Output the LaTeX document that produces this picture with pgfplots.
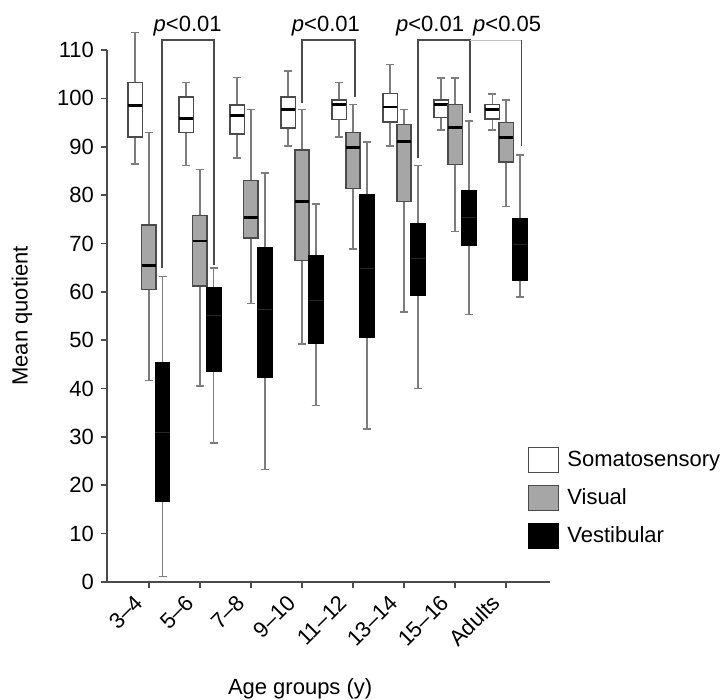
\documentclass[border=0pt]{standalone}
\usepackage{fontspec}
\setmainfont{Liberation Sans}
\usepackage{pgfplots}
\pgfplotsset{compat=1.18}
\usepgfplotslibrary{statistics}

\definecolor{boxgray}{RGB}{166,166,166}
\definecolor{whisk}{RGB}{125,125,125}
\definecolor{edge}{RGB}{75,75,75}

% position, lower whisker, lower quartile, median, upper quartile, upper whisker, style
\newcommand{\bx}[7]{%
  \addplot[#7, forget plot, boxplot/draw direction=y,
    boxplot prepared={draw position=#1,
    lower whisker=#2, lower quartile=#3, median=#4,
    upper quartile=#5, upper whisker=#6,
    box extend=0.28, whisker extend=0.16}] coordinates {};}

\begin{document}
\begin{tikzpicture}[font=\fontsize{11}{13}\selectfont,
  bracket/.style={edge, line width=0.9pt}]
\begin{axis}[
    scale only axis, width=221.5pt, height=266pt,
    xmin=-0.82, xmax=7.86, ymin=0, ymax=110,
    axis lines=left, axis line style={-, edge, line width=0.8pt},
    clip=false,
    xtick={0,...,7},
    xticklabels={3--4,5--6,7--8,9--10,11--12,13--14,15--16,Adults},
    xticklabel style={xshift=-3.5pt, yshift=-4pt, rotate=45, anchor=east, inner sep=2pt},
    ytick={0,10,...,110},
    tick align=outside, major tick length=3pt,
    tick style={edge, line width=0.8pt},
    /pgf/number format/assume math mode=true,
    xlabel={Age groups (y)}, ylabel={Mean quotient},
    xlabel style={at={(axis description cs:0.436,-0.2)}, anchor=center},
    ylabel style={at={(axis description cs:-0.192,0.5)}, anchor=center},
    wb/.style={draw=edge, fill=white, line width=0.7pt,
      boxplot/every median/.style={black, line width=1.4pt},
      boxplot/every whisker/.style={whisk, line width=0.8pt}},
    gb/.style={draw=edge, fill=boxgray, line width=0.7pt,
      boxplot/every median/.style={black, line width=1.4pt},
      boxplot/every whisker/.style={whisk, line width=0.8pt}},
    kb/.style={draw=black, fill=black, line width=0.7pt,
      boxplot/every median/.style={black!85!white, line width=0.5pt},
      boxplot/every whisker/.style={whisk, line width=0.8pt}},
    legend style={at={(axis cs:7.42,28)}, anchor=north west,
      draw=none, fill=none, row sep=5.5pt, inner sep=0pt},
    legend cell align=left,
    legend image code/.code={\draw[#1] (0pt,-6.25pt) rectangle (15pt,6.25pt);},
]
\coordinate (o) at (axis cs:-0.82,0);

\addlegendimage{draw=edge, fill=white, line width=0.7pt}
\addlegendentry{\hspace{2pt}Somatosensory}
\addlegendimage{draw=edge, fill=boxgray, line width=0.7pt}
\addlegendentry{\hspace{2pt}Visual}
\addlegendimage{draw=black, fill=black, line width=0.7pt}
\addlegendentry{\hspace{2pt}Vestibular}

% 3-4
\bx{-0.27}{86.4}{92.0}{98.6}{103.3}{113.6}{wb}
\bx{0}{41.7}{60.5}{65.5}{73.8}{92.9}{gb}
\bx{0.27}{1.1}{16.6}{31.0}{45.3}{63.2}{kb}
% 5-6
\bx{0.73}{86.1}{93.0}{95.9}{100.3}{103.3}{wb}
\bx{1}{40.5}{61.2}{70.5}{75.8}{85.3}{gb}
\bx{1.27}{28.7}{43.6}{55.0}{60.9}{64.9}{kb}
% 7-8
\bx{1.73}{87.7}{92.6}{96.5}{98.6}{104.3}{wb}
\bx{2}{57.6}{71.1}{75.4}{83.0}{97.7}{gb}
\bx{2.27}{23.3}{42.4}{56.4}{69.2}{84.6}{kb}
% 9-10
\bx{2.73}{90.2}{93.9}{97.7}{100.3}{105.6}{wb}
\bx{3}{49.2}{66.5}{78.7}{89.3}{97.7}{gb}
\bx{3.27}{36.5}{49.4}{58.2}{67.4}{78.1}{kb}
% 11-12
\bx{3.73}{92.0}{95.6}{98.8}{99.7}{103.3}{wb}
\bx{4}{68.9}{81.3}{89.9}{92.9}{98.7}{gb}
\bx{4.27}{31.6}{50.6}{64.9}{80.1}{91.0}{kb}
% 13-14
\bx{4.73}{90.1}{95.1}{98.2}{101.0}{107.0}{wb}
\bx{5}{55.8}{78.7}{91.0}{94.6}{97.7}{gb}
\bx{5.27}{40.0}{59.2}{66.9}{74.1}{86.1}{kb}
% 15-16
\bx{5.73}{93.4}{96.0}{98.7}{99.7}{104.2}{wb}
\bx{6}{72.5}{86.3}{93.9}{98.7}{104.2}{gb}
\bx{6.27}{55.3}{69.6}{75.4}{81.0}{95.3}{kb}
% Adults
\bx{6.73}{93.4}{95.7}{97.7}{98.7}{100.9}{wb}
\bx{7}{77.6}{86.8}{91.9}{95.0}{99.7}{gb}
\bx{7.27}{58.9}{62.4}{69.8}{75.1}{88.3}{kb}

% significance brackets
\draw[bracket] (axis cs:0.25,65) -- (axis cs:0.25,112) -- (axis cs:1.27,112) -- (axis cs:1.27,65.5);
\draw[bracket] (axis cs:3,99) -- (axis cs:3,112) -- (axis cs:4.04,112) -- (axis cs:4.04,100.2);
\draw[bracket] (axis cs:5.27,87.6) -- (axis cs:5.27,112) -- (axis cs:6.29,112) -- (axis cs:6.29,96.9);
\draw[black!25, line width=0.5pt] (axis cs:6.29,112) -- (axis cs:7.3,112);
\draw[bracket] (axis cs:7.3,112) -- (axis cs:7.3,90.1);
\node[anchor=base] at (axis cs:0.76,113.8) {\textit{p}<0.01};
\node[anchor=base] at (axis cs:3.47,113.8) {\textit{p}<0.01};
\node[anchor=base] at (axis cs:5.51,113.8) {\textit{p}<0.01};
\node[anchor=base] at (axis cs:7.02,113.8) {\textit{p}<0.05};
\end{axis}
\pgfresetboundingbox
\path ([shift={(-53.5pt,-59pt)}]o) rectangle ([shift={(308.5pt,291pt)}]o);
\end{tikzpicture}
\end{document}
